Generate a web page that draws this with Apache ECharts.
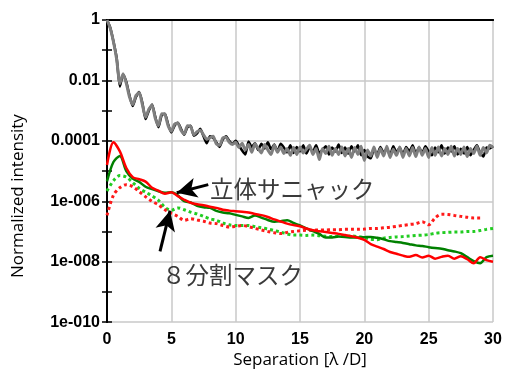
<!DOCTYPE html>
<html>
<head>
<meta charset="utf-8">
<script src="https://cdn.jsdelivr.net/npm/echarts@6/dist/echarts.min.js"></script>
<style>
  html, body { margin: 0; padding: 0; background: #fff; }
  #main { width: 507px; height: 374px; }
</style>
</head>
<body>
<div id="main"></div>
<script>
// 強度は log10 の値で持つ（縦軸は 1e-10 〜 1）
var yTickLabels = { '0': '1', '-2': '0.01', '-4': '0.0001', '-6': '1e-006', '-8': '1e-008', '-10': '1e-010' };

// 黒・灰: 0〜30 を 0.25 刻みで読み取り
var fineStep = 0.25;
var blackLog = [
  0, -0.25, -0.7, -1.25, -2.2, -1.8, -2.05, -2.5, -2.85, -2.55, -2.38, -2.75, -3.28, -3.0, -2.8, -3.2,
  -3.55, -3.15, -3.1, -3.45, -3.72, -3.5, -3.4, -3.6, -3.8, -3.55, -3.5, -3.83, -3.75, -3.6, -3.85, -4.08,
  -3.85, -3.9, -4.05, -4.2, -3.95, -3.85, -4.0, -4.1, -4.0,
  -4.15, -4.32, -4.45, -4.02, -4.2, -4.08, -4.3, -4.1, -4.25, -4.05, -4.28, -4.12, -4.35, -4.1, -4.22, -4.38,
  -4.15, -4.4, -4.2, -4.35, -4.15, -4.42, -4.22, -4.36, -4.15, -4.4, -4.3, -4.18, -4.45, -4.22, -4.35, -4.12,
  -4.4, -4.22, -4.42, -4.18, -4.35, -4.15, -4.48, -4.3, -4.52, -4.58, -4.28, -4.45, -4.2, -4.4, -4.25, -4.48,
  -4.18, -4.38, -4.22, -4.45, -4.2, -4.35, -4.15, -4.42, -4.22, -4.4, -4.18, -4.35, -4.48, -4.22, -4.38, -4.15,
  -4.42, -4.22, -4.35, -4.18, -4.45, -4.26, -4.42, -4.2, -4.48, -4.3, -4.15, -4.4, -4.52, -4.22, -4.25, -4.18
];
var grayLog = [
  0, -0.27, -0.72, -1.3, -2.1, -1.78, -2.1, -2.55, -2.8, -2.5, -2.4, -2.8, -3.22, -2.95, -2.82, -3.25,
  -3.5, -3.1, -3.12, -3.5, -3.68, -3.45, -3.42, -3.65, -3.78, -3.5, -3.52, -3.8, -3.7, -3.65, -3.8, -3.95,
  -3.9, -3.85, -4.1, -4.15, -3.9, -3.88, -4.05, -4.12, -4.05,
  -4.22, -4.08, -4.3, -4.12, -4.38, -4.1, -4.25, -4.4, -4.12, -4.3, -4.45, -4.15, -4.38, -4.2, -4.42, -4.25,
  -4.48, -4.22, -4.45, -4.2, -4.4, -4.28, -4.15, -4.45, -4.25, -4.62, -4.25, -4.42, -4.18, -4.48, -4.25, -4.45,
  -4.2, -4.5, -4.25, -4.55, -4.22, -4.45, -4.18, -4.65, -4.3, -4.5, -4.2, -4.55, -4.25, -4.5, -4.18, -4.55,
  -4.28, -4.48, -4.2, -4.55, -4.25, -4.5, -4.22, -4.52, -4.2, -4.48, -4.25, -4.55, -4.22, -4.48, -4.2, -4.5,
  -4.25, -4.45, -4.18, -4.5, -4.25, -4.45, -4.2, -4.52, -4.25, -4.42, -4.18, -4.48, -4.22, -4.4, -4.15, -4.22
];

// 赤・緑: 0〜30 を 0.5 刻みで読み取り
var coarseStep = 0.5;
var redSolidLog = [
  -4.8, -4.05, -4.35, -4.9, -5.2, -5.27, -5.35, -5.55, -5.65, -5.75, -5.7, -5.83, -5.95, -6.05, -6.1, -6.13,
  -6.18, -6.22, -6.28, -6.31, -6.33, -6.35, -6.37, -6.42, -6.46, -6.52, -6.6, -6.67, -6.74, -6.79, -6.83, -6.9,
  -6.96, -6.99, -7.02, -7.05, -7.08, -7.12, -7.16, -7.21, -7.28, -7.42, -7.5, -7.58, -7.68, -7.74, -7.8, -7.84,
  -7.78, -7.86, -7.8, -7.9, -7.84, -7.8, -7.9, -7.82, -7.92, -8.05, -7.85, -7.95, -8.0
];
var greenSolidLog = [
  -5.34, -4.7, -4.5, -5.0, -5.25, -5.36, -5.52, -5.6, -5.67, -5.72, -5.7, -5.8, -6.0, -6.04, -6.15, -6.2,
  -6.22, -6.32, -6.37, -6.4, -6.45, -6.5, -6.55, -6.47, -6.54, -6.62, -6.68, -6.66, -6.63, -6.72, -6.8, -6.9,
  -6.99, -7.08, -7.2, -7.2, -7.17, -7.18, -7.2, -7.2, -7.19, -7.18, -7.21, -7.26, -7.32, -7.35, -7.38, -7.42,
  -7.46, -7.48, -7.52, -7.55, -7.57, -7.62, -7.66, -7.72, -7.85, -7.98, -8.05, -7.85, -7.8
];
var greenDotLog = [
  -5.66, -5.32, -5.15, -5.2, -5.38, -5.57, -5.7, -5.82, -5.97, -6.2, -6.3, -6.22, -6.28, -6.36, -6.42, -6.5,
  -6.58, -6.63, -6.72, -6.78, -6.8, -6.8, -6.8, -6.84, -6.88, -6.92, -6.97, -7.02, -7.08, -7.12, -7.12, -7.13,
  -7.12, -7.14, -7.16, -7.17, -7.16, -7.16, -7.15, -7.17, -7.2, -7.26, -7.27, -7.22, -7.2, -7.18, -7.17, -7.15,
  -7.13, -7.12, -7.1, -7.06, -7.04, -7.03, -7.02, -7.02, -7.0, -7.0, -6.97, -6.93, -6.9
];
var redDotLog = [
  -6.47, -5.8, -5.55, -5.45, -5.52, -5.68, -5.85, -6.0, -6.12, -6.28, -6.4, -6.5, -6.63, -6.58, -6.62, -6.66,
  -6.72, -6.74, -6.8, -6.85, -6.83, -6.8, -6.84, -6.9, -6.95, -7.0, -7.04, -7.07, -7.03, -7.0, -6.98, -6.96,
  -6.96, -6.95, -6.95, -6.94, -6.94, -6.93, -6.93, -6.93, -6.92, -6.9, -6.9, -6.88, -6.86, -6.83, -6.8, -6.77,
  -6.74, -6.68, -6.78, -6.55, -6.43, -6.44, -6.47, -6.5, -6.53, -6.55, -6.55, null, null
];

// 注記（データ座標）
var sagnacArrow = [[7.87, -5.45], [5.42, -5.72]];
var maskArrow = [[4.12, -7.66], [4.9, -6.31]];
var sagnacText = { label: '立体サニャック', at: [8.0, -5.6] };
var maskText = { label: '８分割マスク', at: [4.27, -8.45] };

function pairs(values, step) {
  return values.map(function (v, i) { return [i * step, v]; });
}

var myChart = echarts.init(document.getElementById('main'));

var labelFont = { color: '#000', fontWeight: 'bold', fontSize: 16, fontFamily: 'Liberation Sans, Arial, sans-serif' };

function line(name, values, step, color, width, dotted, extra) {
  var s = {
    name: name,
    type: 'line',
    data: pairs(values, step),
    showSymbol: false,
    smooth: 0.3,
    connectNulls: false,
    lineStyle: { color: color, width: width, type: dotted ? [3, 3] : 'solid' }
  };
  return Object.assign(s, extra || {});
}

function arrow(seg) {
  return [{ coord: seg[0] }, { coord: seg[1] }];
}

myChart.setOption({
  animation: false,
  grid: { left: 107, right: 14, top: 20, bottom: 45 },
  xAxis: [
    {
      type: 'value', min: 0, max: 30, interval: 5,
      name: 'Separation [λ /D]', nameLocation: 'middle', nameGap: 29,
      nameTextStyle: { color: '#000', fontSize: 17, fontFamily: 'Open Sans, sans-serif' },
      axisLine: { lineStyle: { color: '#000', width: 2 } },
      axisTick: { show: false },
      axisLabel: Object.assign({ margin: 9 }, labelFont),
      splitLine: { lineStyle: { color: '#c8c8c8', width: 1.5 } }
    },
    {
      type: 'value', min: 0, max: 30, position: 'top',
      axisLine: { lineStyle: { color: '#000', width: 2 } },
      axisTick: { show: false }, axisLabel: { show: false }, splitLine: { show: false }
    }
  ],
  yAxis: [
    {
      type: 'value', min: -10, max: 0, interval: 2,
      name: 'Normalized intensity', nameLocation: 'middle', nameGap: 80,
      nameTextStyle: { color: '#000', fontSize: 17, fontFamily: 'Open Sans, sans-serif', padding: [0, 50, 0, 0] },
      axisLine: { lineStyle: { color: '#000', width: 2 } },
      axisTick: { show: true, inside: true, length: 5, lineStyle: { color: '#000', width: 1.5 } },
      minorTick: { show: true, splitNumber: 2, length: 5, lineStyle: { color: '#000', width: 1.5 } },
      axisLabel: Object.assign({ margin: 7, formatter: function (v) { return yTickLabels[String(v)]; } }, labelFont),
      splitLine: { lineStyle: { color: '#c8c8c8', width: 1.5 } }
    },
    {
      type: 'value', min: -10, max: 0, interval: 2, position: 'right',
      axisLine: { show: true, lineStyle: { color: '#000', width: 2 } },
      axisTick: { show: true, inside: true, length: 5, lineStyle: { color: '#000', width: 1.5 } },
      minorTick: { show: true, splitNumber: 2, length: 5, lineStyle: { color: '#000', width: 1.5 } },
      axisLabel: { show: false }, splitLine: { show: false }
    }
  ],
  series: [
    line('black', blackLog, fineStep, '#000000', 2.5, false, { smooth: 0.2 }),
    line('gray', grayLog, fineStep, '#7f7f7f', 3, false, { smooth: 0.2 }),
    line('green dotted', greenDotLog, coarseStep, '#22cc22', 3, true),
    line('red dotted', redDotLog, coarseStep, '#ff1a1a', 3, true),
    line('green', greenSolidLog, coarseStep, '#008000', 2.5, false),
    line('red', redSolidLog, coarseStep, '#ff0000', 2.5, false, {
      markLine: {
        silent: true, animation: false,
        symbol: ['none', 'arrow'], symbolSize: [15, 20],
        label: { show: false },
        lineStyle: { color: '#000', width: 3, type: 'solid' },
        data: [arrow(sagnacArrow), arrow(maskArrow)]
      }
    })
  ]
});

function note(t) {
  var p = myChart.convertToPixel({ gridIndex: 0 }, t.at);
  return {
    type: 'text', x: p[0], y: p[1],
    style: {
      text: t.label, fill: '#3a3a3a', fontSize: 23.5,
      fontFamily: 'Noto Sans CJK JP', verticalAlign: 'middle', align: 'left'
    }
  };
}

myChart.setOption({ graphic: [note(sagnacText), note(maskText)] });
</script>
</body>
</html>
